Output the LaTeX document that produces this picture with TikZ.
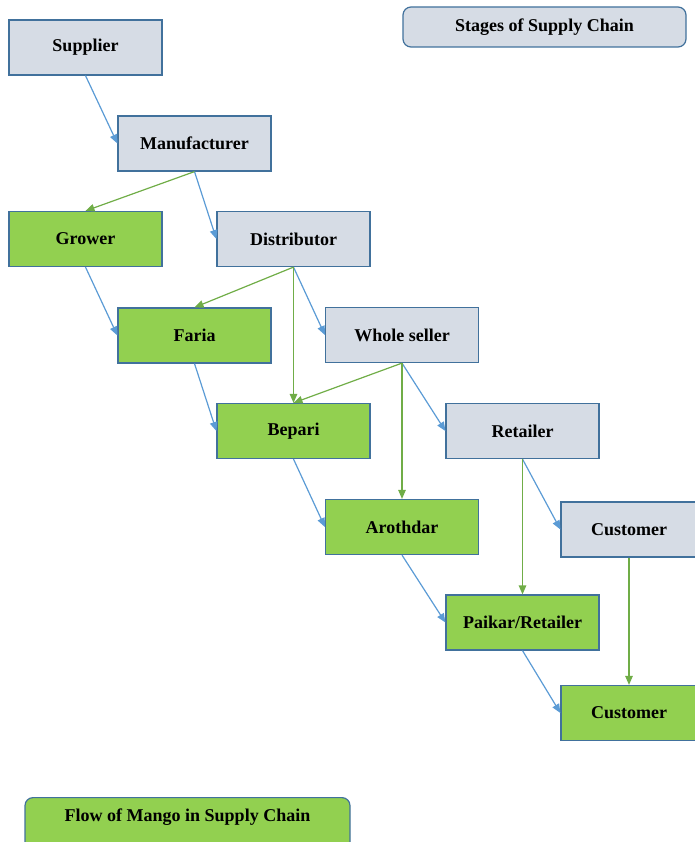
\documentclass[tikz,border=0pt]{standalone}
\usepackage{fontspec}
\setmainfont{Liberation Serif}
\usetikzlibrary{arrows.meta,positioning}
\definecolor{stage}{HTML}{D6DCE5}
\definecolor{mango}{HTML}{92D050}
\definecolor{rim}{HTML}{41719C}
\definecolor{chainblue}{HTML}{5B9BD5}
\definecolor{mangogreen}{HTML}{70AD47}
\tikzset{
  box/.style={draw=rim, line width=1.2pt, fill=#1, align=center, inner sep=0pt,
              minimum width=153pt, minimum height=55pt, font=\fontsize{18}{21}\selectfont\bfseries},
  tag/.style={box=#1, rounded corners=8pt},
  chain/.style={-{Triangle[length=9pt, width=7.5pt]}, line width=1.2pt, draw=chainblue},
  flow/.style={-{Triangle[length=9pt, width=7.5pt]}, line width=1.2pt, draw=mangogreen},
}

\begin{document}
\begin{tikzpicture}[x=1pt, y=-1pt]
\useasboundingbox (0,0) rectangle (694,842);

% stages of the supply chain
\node[box=stage] (supplier) at (85.5,47.5) {Supplier};
\node[box=stage] (maker) at (194.5,143.5) {Manufacturer};
\node[box=stage] (distrib) at (293.5,239) {Distributor};
\node[box=stage] (wholesale) at (402,335) {Whole seller};
\node[box=stage] (retail) at (522.5,431) {Retailer};
\node[box=stage, minimum width=136pt] (buyer) at (629,529.5) {Customer};

% flow of mango
\node[box=mango] (grower) at (85.5,239) {Grower};
\node[box=mango] (faria) at (194.5,335.5) {Faria};
\node[box=mango] (bepari) at (293.5,431) {Bepari};
\node[box=mango] (arothdar) at (402,527) {Arothdar};
\node[box=mango] (paikar) at (522.5,622.5) {Paikar/Retailer};
\node[box=mango, minimum width=136pt] (consumer) at (629,713) {Customer};

% legend
\node[tag=stage, minimum width=283pt, minimum height=40pt] (stages) at (544.5,27) {Stages of Supply Chain};
\node[tag=mango, minimum width=325pt, minimum height=0pt, text height=24pt, text depth=31pt, anchor=north] (mangoflow) at (187.5,797) {Flow of Mango in Supply Chain};

\draw[chain] (supplier.south) -- (maker.west);
\draw[chain] (maker.south) -- (distrib.west);
\draw[chain] (distrib.south) -- (wholesale.west);
\draw[chain] (wholesale.south) -- (retail.west);
\draw[chain] (retail.south) -- (buyer.west);

\draw[chain] (grower.south) -- (faria.west);
\draw[chain] (faria.south) -- (bepari.west);
\draw[chain] (bepari.south) -- (arothdar.west);
\draw[chain] (arothdar.south) -- (paikar.west);
\draw[chain] (paikar.south) -- (consumer.west);

\draw[flow] (maker.south) -- (grower.north);
\draw[flow] (distrib.south) -- (faria.north);
\draw[flow] (distrib.south) -- (bepari.north);
\draw[flow] (wholesale.south) -- (bepari.north);
\draw[flow] (wholesale.south) -- (arothdar.north);
\draw[flow] (retail.south) -- (paikar.north);
\draw[flow] (buyer.south) -- (consumer.north);
\end{tikzpicture}
\end{document}
